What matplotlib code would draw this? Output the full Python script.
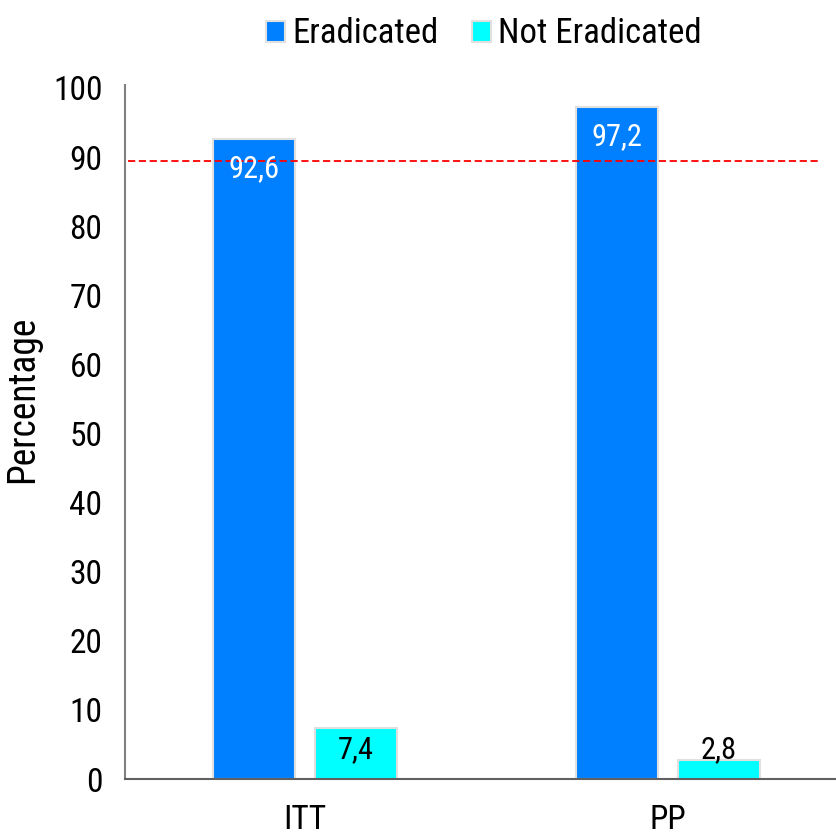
import matplotlib
matplotlib.use('Agg')
import matplotlib.pyplot as plt
import numpy as np

# data
groups = ['ITT', 'PP']
eradicated = [92.6, 97.2]
not_eradicated = [7.4, 2.8]
target = 89.4
yticks = list(range(0, 101, 10))

plt.rcParams['font.family'] = ['Roboto Condensed', 'DejaVu Sans']

blue = '#0080ff'
cyan = '#00ffff'

fig = plt.figure(figsize=(8.37, 8.38), dpi=100)
ax = fig.add_axes([0.149, 0.0704, 0.851, 0.8246])

x = np.arange(len(groups))
w = 0.226
off = 0.1405
b1 = ax.bar(x - off, eradicated, w, color=blue, edgecolor='#e0e0e0', linewidth=1.5, label='Eradicated')
b2 = ax.bar(x + off, not_eradicated, w, color=cyan, edgecolor='#e0e0e0', linewidth=1.5, label='Not Eradicated')

ax.axhline(target, xmin=0.004, xmax=0.975, color='red', linestyle=(0, (4, 2)), linewidth=1.3)

# value labels, decimal comma
for xi, v in zip(x - off, eradicated):
    ax.text(xi, v - 4.3, '{:.1f}'.format(v).replace('.', ','), ha='center', va='center',
            color='white', fontsize=22)
for xi, v in zip(x + off, not_eradicated):
    ax.text(xi, 4.2, '{:.1f}'.format(v).replace('.', ','), ha='center', va='center',
            color='black', fontsize=22)

ax.set_xlim(-0.496, 1.466)
ax.set_ylim(0, 100)
ax.set_yticks(yticks)
ax.set_xticks(x)
ax.set_xticklabels(groups)
ax.tick_params(axis='both', length=0, labelsize=24)
ax.tick_params(axis='y', pad=16)
ax.tick_params(axis='x', pad=18)
ax.set_ylabel('Percentage', fontsize=27)
ax.yaxis.set_label_coords(-0.118, 0.55)

for s in ['top', 'right']:
    ax.spines[s].set_visible(False)
ax.spines['left'].set_color('#808080')
ax.spines['left'].set_bounds(0, 100.5)
ax.spines['bottom'].set_color('#606060')
ax.spines['left'].set_linewidth(1.5)
ax.spines['bottom'].set_linewidth(1.5)

fig.legend(handles=[b1, b2], loc='upper center', bbox_to_anchor=(0.578, 1.0), ncol=2,
           frameon=False, fontsize=25, handlelength=0.55, handleheight=0.55,
           handletextpad=0.2, columnspacing=0.95, borderaxespad=0.1)

fig.savefig('out.png', dpi=100)
